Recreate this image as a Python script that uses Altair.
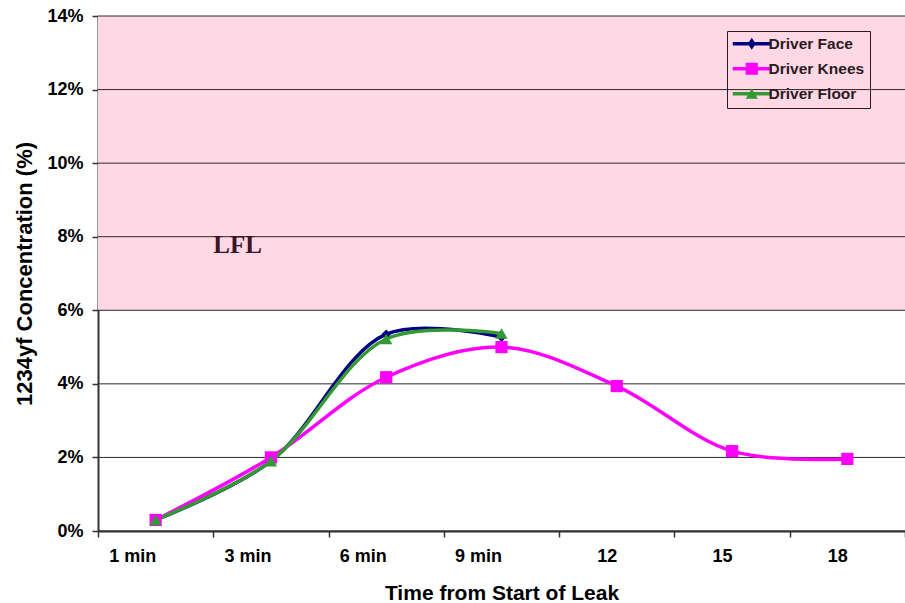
import altair as alt
import pandas as pd

# Sampling times along the x axis
times = ["1 min", "3 min", "6 min", "9 min", "12", "15", "18"]

# 1234yf concentration (%) at each sampling location
driver_face = [0.30, 1.90, 5.35, 5.27]
driver_knees = [0.30, 2.00, 4.18, 5.00, 3.94, 2.17, 1.96]
driver_floor = [0.30, 1.90, 5.22, 5.37]

series_names = ["Driver Face", "Driver Knees", "Driver Floor"]
series_colors = ["#000080", "#FF00FF", "#339933"]
marker_shapes = ["diamond", "square", "triangle-up"]
# legend glyphs: a short line segment with the marker on top
legend_glyphs = [
    "M-3.1,-0.3H3.1V0.3H-3.1Z M0,-1L0.65,0L0,1L-0.65,0Z",
    "M-3.1,-0.3H3.1V0.3H-3.1Z M-1,-1H1V1H-1Z",
    "M-3.1,-0.3H3.1V0.3H-3.1Z M0,-0.85L1,0.8H-1Z",
]

# Lower flammability limit band and axis ticks
lfl_low, lfl_high = 6, 14
y_ticks = [0, 2, 4, 6, 8, 10, 12, 14]

rows = []
for name, vals in zip(series_names, [driver_face, driver_knees, driver_floor]):
    for t, v in zip(times, vals):
        rows.append({"time": t, "conc": v, "series": name})
df = pd.DataFrame(rows)

FONT = "Liberation Sans"

x_enc = alt.X(
    "time:N",
    sort=times,
    scale=alt.Scale(type="band", domain=times, paddingInner=0, paddingOuter=0),
    axis=alt.Axis(
        title="Time from Start of Leak",
        labelAngle=0,
        tickBand="extent",
        grid=False,
        tickSize=6,
        labelPadding=19,
        titlePadding=17,
    ),
)
y_scale = alt.Scale(domain=[0, 14], nice=False, zero=True)
y_enc = alt.Y(
    "conc:Q",
    scale=y_scale,
    axis=alt.Axis(
        title="1234yf Concentration (%)",
        values=y_ticks,
        labelExpr="datum.value + '%'",
        grid=False,
        tickSize=6,
        labelPadding=9,
        titlePadding=10,
    ),
)
color_scale = alt.Scale(domain=series_names, range=series_colors)

# pink band above the LFL
band = alt.Chart(pd.DataFrame({"lo": [lfl_low], "hi": [lfl_high]})).mark_rect(
    color="#FFD8E5"
).encode(
    y=alt.Y("lo:Q", scale=y_scale),
    y2="hi:Q",
    x=alt.value(0),
    x2=alt.value("width"),
)

grid = alt.Chart(pd.DataFrame({"v": y_ticks})).mark_rule(
    color="#2a2a2a", strokeWidth=1
).encode(y=alt.Y("v:Q", scale=y_scale))

label = alt.Chart(
    pd.DataFrame({"time": ["1 min"], "conc": [7.57], "txt": ["LFL"]})
).mark_text(
    font="Liberation Serif",
    fontWeight="bold",
    fontSize=25,
    color="#3a1525",
    align="center",
    baseline="alphabetic",
    dx=82,
).encode(x=alt.X("time:N", sort=times), y=alt.Y("conc:Q", scale=y_scale), text="txt:N")

lines = []
points = []
for name, shape, size in zip(series_names, marker_shapes, [90, 150, 150]):
    sub = alt.Chart(df).transform_filter(alt.datum.series == name)
    lines.append(
        sub.mark_line(interpolate="catmull-rom", strokeWidth=3.5).encode(
            x=x_enc,
            y=y_enc,
            color=alt.Color("series:N", scale=color_scale, legend=None),
        )
    )
    points.append(
        sub.mark_point(filled=True, opacity=1, shape=shape, size=size).encode(
            x=x_enc,
            y=y_enc,
            color=alt.Color("series:N", scale=color_scale, legend=None),
        )
    )

legend_layer = alt.Chart(df).transform_filter("false").mark_point(
    filled=True, opacity=1, size=150
).encode(
    x=x_enc,
    y=y_enc,
    color=alt.Color(
        "series:N",
        scale=color_scale,
        legend=alt.Legend(title=None),
    ),
    shape=alt.Shape(
        "series:N",
        scale=alt.Scale(domain=series_names, range=legend_glyphs),
        legend=alt.Legend(title=None),
    ),
)

chart = (
    alt.layer(band, grid, label, *lines, *points, legend_layer)
    .resolve_scale(color="independent", shape="independent")
    .properties(
        width=807,
        height=515,
        autosize=alt.AutoSizeParams(type="none"),
        padding={"left": 98, "top": 16, "right": 0, "bottom": 72},
        background="white",
    )
    .configure_view(stroke=None)
    .configure_axis(
        labelFont=FONT,
        titleFont=FONT,
        labelFontWeight="bold",
        titleFontWeight="bold",
        labelColor="#000000",
        titleColor="#000000",
        labelFontSize=18,
        titleFontSize=21,
        domainColor="#333333",
        domainWidth=2,
        tickColor="#333333",
        tickWidth=1.5,
    )
    .configure_axisY(titleFontSize=22)
    .configure_legend(
        orient="none",
        legendX=629,
        legendY=15,
        labelFont=FONT,
        labelFontWeight="bold",
        labelFontSize=15.5,
        labelColor="#2a1a22",
        strokeColor="#2a1a22",
        padding=5,
        rowPadding=8,
        symbolOffset=12,
        labelOffset=9,
        symbolStrokeWidth=0,
        symbolSize=150,
    )
)

chart.save("out.html", embed_options={"renderer": "svg", "actions": False})
